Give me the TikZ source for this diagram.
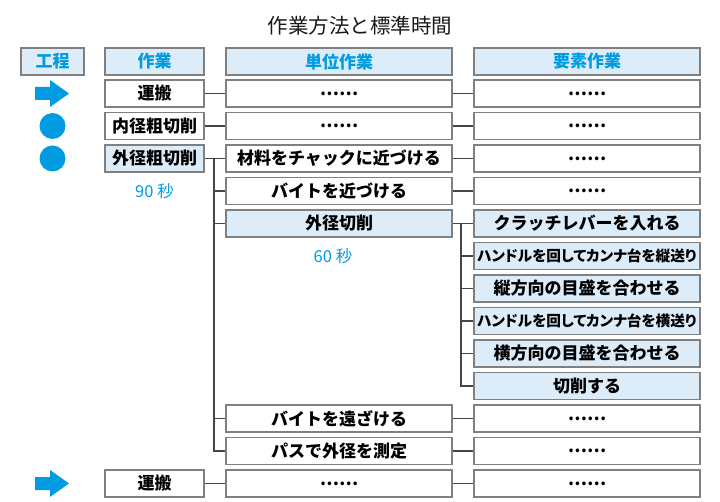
\documentclass[tikz,border=0pt]{standalone}
\usepackage{fontspec}
\setmainfont{Noto Sans CJK JP}
\usetikzlibrary{calc}
\definecolor{blueC}{RGB}{0,155,225}
\definecolor{lightB}{RGB}{221,236,249}
\definecolor{boxgray}{RGB}{128,128,128}
\definecolor{linegray}{RGB}{70,70,70}
\tikzset{
  box/.style={draw=boxgray, line width=1.2pt, fill=white, minimum height=27pt, inner sep=0pt, text=black,
    font=\bfseries\fontsize{17}{17}\selectfont},
  hl/.style={box, fill=lightB},
  hdr/.style={box, fill=lightB, text=blueC},
  wA/.style={minimum width=63pt},
  wB/.style={minimum width=99pt},
  wC/.style={minimum width=226pt},
  small/.style={font=\bfseries\fontsize{14.7}{14.7}\selectfont\addfontfeature{RawFeature=+palt}},
  conn/.style={draw=linegray, line width=1.4pt},
  note/.style={text=blueC, font=\fontsize{16.5}{16.5}\selectfont, inner sep=0pt},
  sym/.style={fill=blueC, draw=none}
}
\newcommand\mydots{……}
\begin{document}
\begin{tikzpicture}[x=1pt,y=-1pt]
\useasboundingbox (0,0) rectangle (720,502);
\node[font=\fontsize{20.5}{20.5}\selectfont, text=black!90] (title) at (360,26) {作業方法と標準時間};
% headers
\node[hdr,wA] (h1) at (52.5,61.5) {工程};
\node[hdr,wB] (h2) at (154.5,61.5) {作業};
\node[hdr,wC] (h3) at (339,61.5) {単位作業};
\node[hdr,wC] (h4) at (587,61.5) {要素作業};
% row 1
\node[box,wB] (r1b) at (154.5,93.5) {運搬};
\node[box,wC] (r1c) at (339,93.5) {\mydots};
\node[box,wC] (r1d) at (587,93.5) {\mydots};
% row 2
\node[box,wB] (r2b) at (154.5,126) {内径粗切削};
\node[box,wC] (r2c) at (339,126) {\mydots};
\node[box,wC] (r2d) at (587,126) {\mydots};
% row 3
\node[hl,wB] (r3b) at (154.5,158.5) {外径粗切削};
\node[box,wC] (r3c) at (339,158.5) {材料をチャックに近づける};
\node[box,wC] (r3d) at (587,158.5) {\mydots};
\node[note] (t90) at (154.5,191) {90 秒};
% row 4
\node[box,wC] (r4c) at (339,191) {バイトを近づける};
\node[box,wC] (r4d) at (587,191) {\mydots};
% row 5
\node[hl,wC] (r5c) at (339,223.5) {外径切削};
\node[note] (t60) at (333,256) {60 秒};
\node[hl,wC] (e5) at (587,223.5) {クラッチレバーを入れる};
\node[hl,wC,small] (e6) at (587,256) {ハンドルを回してカンナ台を縦送り};
\node[hl,wC] (e7) at (587,288.5) {縦方向の目盛を合わせる};
\node[hl,wC,small] (e8) at (587,321) {ハンドルを回してカンナ台を横送り};
\node[hl,wC] (e9) at (587,353.5) {横方向の目盛を合わせる};
\node[hl,wC] (e10) at (587,386) {切削する};
% row 11,12
\node[box,wC] (r11c) at (339,418.5) {バイトを遠ざける};
\node[box,wC] (r11d) at (587,418.5) {\mydots};
\node[box,wC] (r12c) at (339,451) {パスで外径を測定};
\node[box,wC] (r12d) at (587,451) {\mydots};
% row 13
\node[box,wB] (r13b) at (154.5,483.5) {運搬};
\node[box,wC] (r13c) at (339,483.5) {\mydots};
\node[box,wC] (r13d) at (587,483.5) {\mydots};
% symbols
\fill[sym] (35,87) -- (50,87) -- (50,80) -- (69,93.5) -- (50,107) -- (50,100) -- (35,100) -- cycle;
\fill[sym] (35,477) -- (50,477) -- (50,470) -- (69,483.5) -- (50,497) -- (50,490) -- (35,490) -- cycle;
\fill[sym] (52.5,126) circle (13);
\fill[sym] (52.5,158.5) circle (13);
% connectors
\draw[conn] (r1b.east) -- (r1c.west);
\draw[conn] (r1c.east) -- (r1d.west);
\draw[conn] (r2b.east) -- (r2c.west);
\draw[conn] (r2c.east) -- (r2d.west);
\draw[conn] (r3b.east) -- (r3c.west);
\draw[conn] (r3c.east) -- (r3d.west);
\draw[conn] (r4c.east) -- (r4d.west);
\draw[conn] (r11c.east) -- (r11d.west);
\draw[conn] (r12c.east) -- (r12d.west);
\draw[conn] (r13b.east) -- (r13c.west);
\draw[conn] (r13c.east) -- (r13d.west);
\coordinate (b1) at ($(r3b.east)!0.45!(r3c.west)$);
\draw[conn] (b1) |- (r12c.west);
\foreach \n in {r4c,r5c,r11c} \draw[conn] (b1 |- \n.west) -- (\n.west);
\draw[conn] (r5c.east) -- (e5.west);
\coordinate (b2) at ($(r5c.east)!0.4!(e5.west)$);
\draw[conn] (b2) |- (e10.west);
\foreach \n in {e6,e7,e8,e9} \draw[conn] (b2 |- \n.west) -- (\n.west);
\end{tikzpicture}
\end{document}
